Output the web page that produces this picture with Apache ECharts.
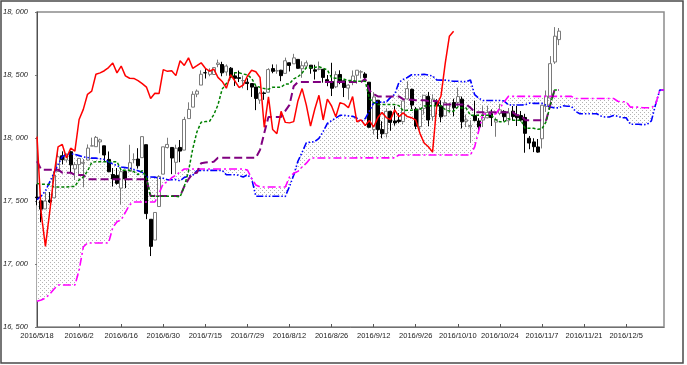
<!DOCTYPE html>
<html><head><meta charset="utf-8">
<script src="https://cdn.jsdelivr.net/npm/echarts@6/dist/echarts.min.js"></script>
<style>html,body{margin:0;padding:0;background:#fff}#c{width:687px;height:365px}</style>
</head><body><div id="c"></div>
<script>
// Trading days (plus 25 future sessions for the forward-shifted cloud)
const dates = ("5/18 5/19 5/20 5/23 5/24 5/25 5/26 5/27 5/31 6/1 6/2 6/3 6/6 6/7 6/8 6/9 6/10 6/13 6/14 6/15 " +
 "6/16 6/17 6/20 6/21 6/22 6/23 6/24 6/27 6/28 6/29 6/30 7/1 7/5 7/6 7/7 7/8 7/11 7/12 7/13 7/14 " +
 "7/15 7/18 7/19 7/20 7/21 7/22 7/25 7/26 7/27 7/28 7/29 8/1 8/2 8/3 8/4 8/5 8/8 8/9 8/10 8/11 " +
 "8/12 8/15 8/16 8/17 8/18 8/19 8/22 8/23 8/24 8/25 8/26 8/29 8/30 8/31 9/1 9/2 9/6 9/7 9/8 9/9 " +
 "9/12 9/13 9/14 9/15 9/16 9/19 9/20 9/21 9/22 9/23 9/26 9/27 9/28 9/29 9/30 10/3 10/4 10/5 10/6 10/7 " +
 "10/10 10/11 10/12 10/13 10/14 10/17 10/18 10/19 10/20 10/21 10/24 10/25 10/26 10/27 10/28 10/31 11/1 11/2 11/3 11/4 " +
 "11/7 11/8 11/9 11/10 11/11 11/14 11/15 11/16 11/17 11/18 11/21 11/22 11/23 11/24 11/25 11/28 11/29 11/30 12/1 12/2 " +
 "12/5 12/6 12/7 12/8 12/9 12/12 12/13 12/14 12/15 12/16").split(' ').map(d => '2016/' + d);

const opens = [17531,17501,17437,17507,17525,17735,17859,17826,17891,17754,
17789,17799,17825,17936,17931,17969,17938,17830,17710,17703,
17602,17734,17736,17828,17833,17844,17947,17355,17190,17456,
17713,17924,17925,17807,17925,17904,18154,18245,18348,18420,
18518,18505,18504,18583,18583,18524,18554,18493,18479,18455,
18443,18432,18405,18301,18358,18363,18551,18532,18538,18513,
18597,18589,18624,18550,18571,18578,18541,18545,18545,18463,
18448,18406,18504,18454,18396,18441,18498,18523,18508,18443,
18067,18300,18067,18034,18212,18135,18142,18130,18310,18386,
18229,18090,18235,18331,18170,18283,18254,18175,18265,18282,
18282,18308,18132,18089,18177,18135,18142,18160,18193,18126,
18195,18211,18137,18213,18181,18178,18163,17998,17969,17929,
17994,18251,18317,18603,18781];
const highs = [17633,17501,17572,17571,17735,17891,17894,17874,17899,17809,
17838,17833,17949,18003,18016,17995,17938,17893,17762,17762,
17754,17734,17946,17878,17919,18011,17947,17355,17409,17704,
17930,18002,17925,17947,17984,18168,18283,18371,18385,18537,
18547,18553,18560,18622,18605,18584,18563,18521,18535,18495,
18474,18435,18406,18366,18369,18554,18584,18584,18541,18638,
18598,18668,18624,18609,18615,18578,18581,18607,18548,18500,
18597,18530,18537,18454,18427,18536,18538,18538,18522,18443,
18364,18300,18133,18235,18212,18254,18198,18294,18450,18392,
18245,18244,18339,18366,18346,18308,18299,18306,18280,18312,
18400,18329,18186,18141,18296,18157,18258,18256,18227,18163,
18271,18221,18238,18254,18256,18214,18192,18016,17998,17992,
18264,18377,18650,18880,18873];
const lows = [17466,17331,17437,17483,17525,17735,17790,17808,17724,17667,
17713,17609,17822,17936,17931,17879,17812,17731,17615,17629,
17471,17602,17736,17799,17757,17844,17356,17063,17190,17456,
17712,17917,17713,17713,17808,17904,18154,18245,18324,18420,
18472,18490,18504,18562,18490,18494,18472,18413,18444,18394,
18380,18326,18221,18271,18303,18363,18514,18510,18451,18513,
18528,18589,18550,18478,18550,18510,18464,18537,18439,18411,
18333,18396,18427,18325,18304,18419,18431,18472,18446,18085,
18028,17992,17998,18004,18057,18098,18117,18109,18305,18230,
18070,18060,18186,18093,18135,18189,18125,18171,18196,18172,
18251,18076,18087,17960,18132,18060,18087,18156,18095,18010,
18181,18132,18102,18139,18095,18131,17883,17911,17888,17883,
17917,18207,18254,18588,18737];
const closes = [17526,17435,17500,17492,17706,17851,17828,17873,17787,17789,
17838,17807,17920,17938,18005,17985,17865,17732,17675,17640,
17733,17675,17804,17829,17780,18011,17400,17140,17409,17695,
17930,17949,17841,17919,17896,18147,18227,18347,18372,18506,
18517,18534,18559,18595,18517,18571,18493,18474,18473,18456,
18432,18404,18314,18355,18353,18543,18529,18534,18495,18613,
18576,18636,18553,18574,18597,18553,18530,18547,18481,18449,
18395,18503,18454,18401,18420,18492,18538,18526,18480,18085,
18326,18067,18034,18212,18124,18120,18130,18294,18392,18261,
18094,18228,18339,18143,18308,18254,18168,18281,18269,18240,
18329,18129,18144,18099,18138,18087,18162,18203,18162,18146,
18223,18169,18199,18170,18161,18142,18037,17960,17931,17888,
18260,18333,18590,18808,18848];

// Conversion line (green)
const tenkan = [17640,17633,17633,17630,17612,17612,17612,17612,17615,17615,
17668,17691,17737,17806,17812.5,17812.5,17812.5,17812.5,17812.5,17812.5,
17743.5,17743.5,17743.5,17733,17708.5,17741,17683.5,17537,17537,17537,
17537,17537,17537,17537,17532.5,17615.5,17736.5,17913.5,18048.5,18125,
18130,18133,18184,18263,18388,18433.5,18473,18517.5,18517.5,18508,
18501,18474,18413,18402.5,18392,18387.5,18402.5,18402.5,18402.5,18429.5,
18429.5,18469.5,18485.5,18515.5,18559.5,18559.5,18559.5,18566,18553.5,18539.5,
18478.5,18474,18474,18466,18455.5,18455.5,18450.5,18450.5,18450.5,18311.5,
18283,18265,18265,18265,18265,18265,18257,18217.5,18221,18221,
18224,18227,18253.5,18255,18255,18255,18255,18226,18213,18213,
18246.5,18238,18238,18180,18180,18180,18180,18180,18180,18144.5,
18128,18128,18153,18140.5,18140.5,18140.5,18077,18077,18077,18069.5,
18073.5,18130,18266.5,18381.5,18381.5];
// Base line (purple)
const kijun = [17816,17749,17749,17749,17749,17749,17725,17725,17725,17706,
17706,17706,17673.5,17673.5,17673.5,17673.5,17673.5,17673.5,17673.5,17673.5,
17673.5,17673.5,17673.5,17673.5,17673.5,17673.5,17673.5,17539.5,17539.5,17539.5,
17539.5,17539.5,17539.5,17539.5,17539.5,17615.5,17673,17717,17724,17800,
17805,17808,17811.5,17842.5,17842.5,17842.5,17842.5,17842.5,17842.5,17842.5,
17842.5,17842.5,17842.5,17906,18039,18167,18167.5,18167.5,18167.5,18215,
18263,18411,18444.5,18444.5,18444.5,18444.5,18444.5,18444.5,18444.5,18444.5,
18444.5,18444.5,18444.5,18444.5,18444.5,18444.5,18444.5,18444.5,18469.5,18376.5,
18348,18330,18330,18330,18330,18330,18330,18308,18303.5,18303.5,
18299.5,18299.5,18299.5,18294.5,18294.5,18294.5,18265,18265,18265,18265,
18265,18265,18265,18241,18205,18205,18205,18205,18205,18205,
18205,18205,18205,18205,18180,18180,18141.5,18141.5,18141.5,18141.5,
18141.5,18141.5,18266.5,18381.5,18381.5];
// Leading span A (blue)
const senkouA = [17510,17540,17580,17650,17720,17790,17850,17870,17875,17870,
17860,17850,17845,17840,17840,17835,17830,17810,17795,17780,
17770,17765,17760,17750,17740,17728,17691,17691,17689.5,17680.5,
17680.5,17668.5,17668.5,17670,17660.5,17687,17698.5,17705,17740,17743,
17743,17743,17743,17743,17743,17708.5,17708.5,17708.5,17703,17691,
17707.25,17678.5,17538.25,17538.25,17538.25,17538.25,17538.25,17538.25,17538.25,17536,
17615.5,17704.75,17815.25,17886.25,17962.5,17967.5,17970.5,17997.75,18052.75,18115.25,
18138,18157.75,18180,18180,18175.25,18171.75,18158.25,18127.75,18154.25,18215.5,
18277.25,18285,18285,18285,18322.25,18346.25,18440.25,18465,18480,18502,
18502,18502,18505.25,18499,18492,18461.5,18459.25,18459.25,18455.25,18450,
18450,18447.5,18447.5,18460,18344,18315.5,18297.5,18297.5,18297.5,18297.5,
18297.5,18293.5,18262.75,18262.25,18262.25,18261.75,18263.25,18276.5,18274.75,18274.75,
18274.75,18260,18245.5,18239,18239,18255.75,18251.5,18251.5,18210.5,18192.5,
18192.5,18192.5,18192.5,18192.5,18174.75,18166.5,18166.5,18179,18172.75,18160.25,
18160.25,18109.25,18109.25,18109.25,18105.5,18107.5,18135.75,18266.5,18381.5,18381.5];
// Leading span B (magenta)
const senkouB = [16705,16715,16730,16760,16800,16833,16833,16833,16833,16833,
16950,17135,17167,17167,17167,17167,17167,17167,17290,17335,
17350,17410,17470,17492,17492,17492,17492,17492,17492,17560,
17640,17650,17685,17705,17730,17754,17754,17754,17754,17754,
17754,17754,17754,17754,17754,17754,17754,17754,17754,17754,
17746,17680,17627,17611,17611,17611,17611,17611,17611,17611,
17690,17720,17735,17770,17800,17841,17841,17841,17841,17841,
17841,17841,17841,17841,17841,17841,17842.5,17842.5,17842.5,17842.5,
17842.5,17842.5,17842.5,17842.5,17842.5,17842.5,17865.5,17865.5,17865.5,17865.5,
17865.5,17865.5,17865.5,17865.5,17865.5,17865.5,17865.5,17865.5,17865.5,17865.5,
17865.5,17865.5,17865.5,17865.5,17929,18062,18190,18190.5,18190.5,18190.5,
18238,18286,18330,18330,18330,18330,18330,18330,18330,18330,
18330,18330,18330,18330,18330,18330,18330,18330,18314,18314,
18314,18314,18314,18314,18314,18314,18314,18314,18292,18287.5,
18287.5,18245,18245,18245,18240,18240,18240,18266.5,18381.5,18381.5];

const chikouShift = 25;
const yTickLabels = ['16, 500', '17, 000', '17, 500', '18, 000', '18, 500', '18, 000'];

// ---- build library inputs ----
const candle = opens.map((o, i) => [o, closes[i], lows[i], highs[i]]);
const chikou = closes.slice(chikouShift);
const cloudLow = senkouA.map((a, i) => Math.min(a, senkouB[i]));
const cloudBand = senkouA.map((a, i) => Math.abs(a - senkouB[i]));

const pat = document.createElement('canvas');
pat.width = 4; pat.height = 4;
const g = pat.getContext('2d');
g.fillStyle = '#ffffff'; g.fillRect(0, 0, 4, 4);
g.fillStyle = '#b4b4b4';
g.fillRect(0, 0, 1, 1); g.fillRect(2, 2, 1, 1);

const chart = echarts.init(document.getElementById('c'));
const lineBase = { type: 'line', symbol: 'none', showSymbol: false, silent: true, animation: false };
chart.setOption({
  animation: false,
  backgroundColor: '#ffffff',
  grid: { left: 35, right: 23, top: 12, bottom: 38, show: true, borderColor: '#8c8c8c', borderWidth: 1.5, backgroundColor: 'transparent' },
  xAxis: {
    type: 'category', data: dates, boundaryGap: false,
    axisLine: { lineStyle: { color: '#707070', width: 1 } },
    axisTick: { interval: 9, inside: true, length: 3, lineStyle: { color: '#555' } },
    axisLabel: { interval: 9, fontSize: 7.5, color: '#222', margin: 5, fontFamily: 'Liberation Sans' },
    splitLine: { show: false }
  },
  yAxis: {
    type: 'value', min: 16500, max: 19000, interval: 500,
    axisLine: { show: true, lineStyle: { color: '#505050', width: 1 } },
    axisTick: { show: true, length: 2, lineStyle: { color: '#777' } },
    axisLabel: { fontSize: 7.5, fontStyle: 'italic', color: '#222', margin: 9, fontFamily: 'Liberation Sans',
      formatter: v => yTickLabels[Math.round((v - 16500) / 500)] },
    splitLine: { show: false }
  },
  graphic: [{ type: 'rect', shape: { x: 1, y: 1, width: 682, height: 362 }, style: { fill: 'none', stroke: '#4a4a4a', lineWidth: 1.5 }, silent: true, z: 100 }],
  series: [
    Object.assign({}, lineBase, { name: 'cloudBase', data: cloudLow, stack: 'cloud', lineStyle: { opacity: 0 }, z: 1 }),
    Object.assign({}, lineBase, { name: 'cloud', data: cloudBand, stack: 'cloud', lineStyle: { opacity: 0 },
      areaStyle: { color: { image: pat, repeat: 'repeat' }, opacity: 1 }, z: 1 }),
    Object.assign({}, lineBase, { name: 'senkouA', data: senkouA, z: 3,
      lineStyle: { color: '#0000ff', width: 1.6, type: [7, 2, 1.5, 2, 1.5, 2] } }),
    Object.assign({}, lineBase, { name: 'senkouB', data: senkouB, z: 3,
      lineStyle: { color: '#ff00ff', width: 1.6, type: [8, 3, 2, 3] } }),
    { type: 'candlestick', name: 'price', data: candle, barWidth: 3.5, z: 2, silent: true,
      itemStyle: { color: '#ffffff', color0: '#000000', borderColor: '#7a7a7a', borderColor0: '#000000', borderWidth: 1 } },
    Object.assign({}, lineBase, { name: 'kijun', data: kijun, z: 4,
      lineStyle: { color: '#800080', width: 2, type: [8, 4] } }),
    Object.assign({}, lineBase, { name: 'tenkan', data: tenkan, z: 5,
      lineStyle: { color: '#008000', width: 1.5, type: [3, 2] } }),
    Object.assign({}, lineBase, { name: 'chikou', data: chikou, z: 6,
      lineStyle: { color: '#ff0000', width: 1.5 } })
  ]
});
</script></body></html>
